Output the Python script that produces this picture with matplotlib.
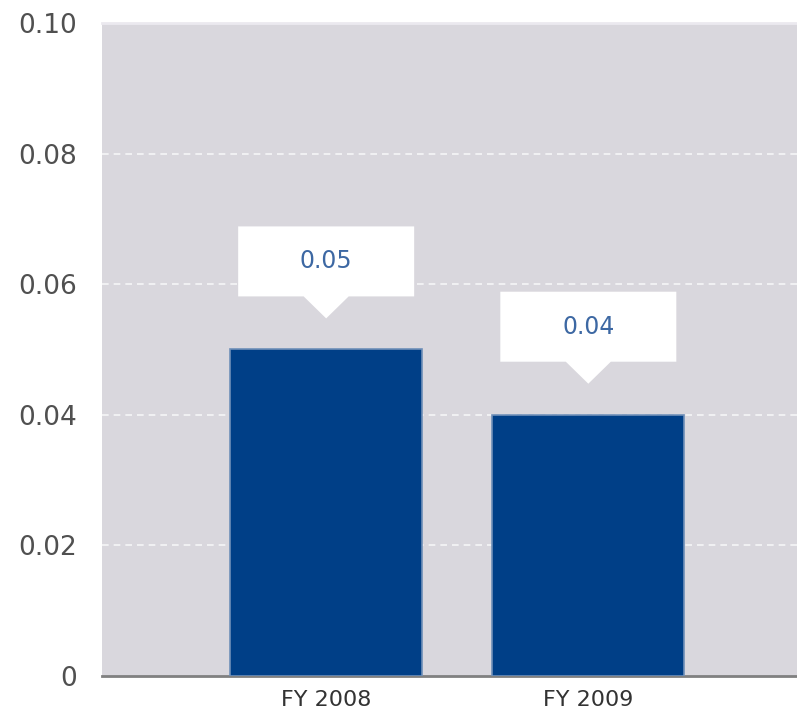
import matplotlib.pyplot as plt
from matplotlib.patches import Polygon
from matplotlib.transforms import ScaledTranslation

years = ['FY 2008', 'FY 2009']
values = [0.05, 0.04]
yticks = [0, 0.02, 0.04, 0.06, 0.08, 0.10]
ytick_labels = ['0', '0.02', '0.04', '0.06', '0.08', '0.10']

bg = '#d9d7dd'
bar_color = '#003f87'

fig = plt.figure(figsize=(7.97, 7.16), dpi=100)
ax = fig.add_axes([0.128, 0.056, 0.872, 0.912])
ax.set_facecolor(bg)

x = range(len(years))
ax.bar(x, values, width=0.733, color=bar_color, edgecolor='#6f8fb8', linewidth=1.2, zorder=3)

ax.set_xlim(-0.855, 1.796)
ax.set_ylim(0, 0.10)

ax.set_yticks(yticks)
ax.set_yticklabels(ytick_labels)

# dashed white gridlines between the bottom axis and the top edge
for t in yticks[1:-1]:
    ax.axhline(t, color='white', linestyle=(0, (4, 3)), linewidth=1.2, alpha=0.75, zorder=1)

ax.set_xticks(list(x))
ax.set_xticklabels(years)

ax.tick_params(axis='y', length=0, pad=18, labelsize=19, labelcolor='#505050')
ax.tick_params(axis='x', length=0, pad=10, labelsize=16, labelcolor='#333333')

for side in ['left', 'right']:
    ax.spines[side].set_visible(False)
ax.spines['top'].set_color('#ebe9ef')
ax.spines['top'].set_linewidth(2)
ax.spines['bottom'].set_color('#808080')
ax.spines['bottom'].set_linewidth(2)

# callout boxes above each bar, shape given in inches from the bar top
for i, v in enumerate(values):
    trans = fig.dpi_scale_trans + ScaledTranslation(i, v, ax.transData)
    w = 0.88
    tip = 0.31
    tri_h = 0.22
    box_h = 0.70
    half = 0.225
    shape = [
        (0, tip),
        (-half, tip + tri_h),
        (-w, tip + tri_h),
        (-w, tip + tri_h + box_h),
        (w, tip + tri_h + box_h),
        (w, tip + tri_h),
        (half, tip + tri_h),
    ]
    ax.add_patch(Polygon(shape, closed=True, facecolor='white', edgecolor='none',
                         transform=trans, zorder=4, clip_on=False))
    ax.text(0, tip + tri_h + box_h / 2, f'{v:.2f}', transform=trans,
            ha='center', va='center', fontsize=17, color='#3d68a3', zorder=5)

fig.savefig('out.png', dpi=100)
